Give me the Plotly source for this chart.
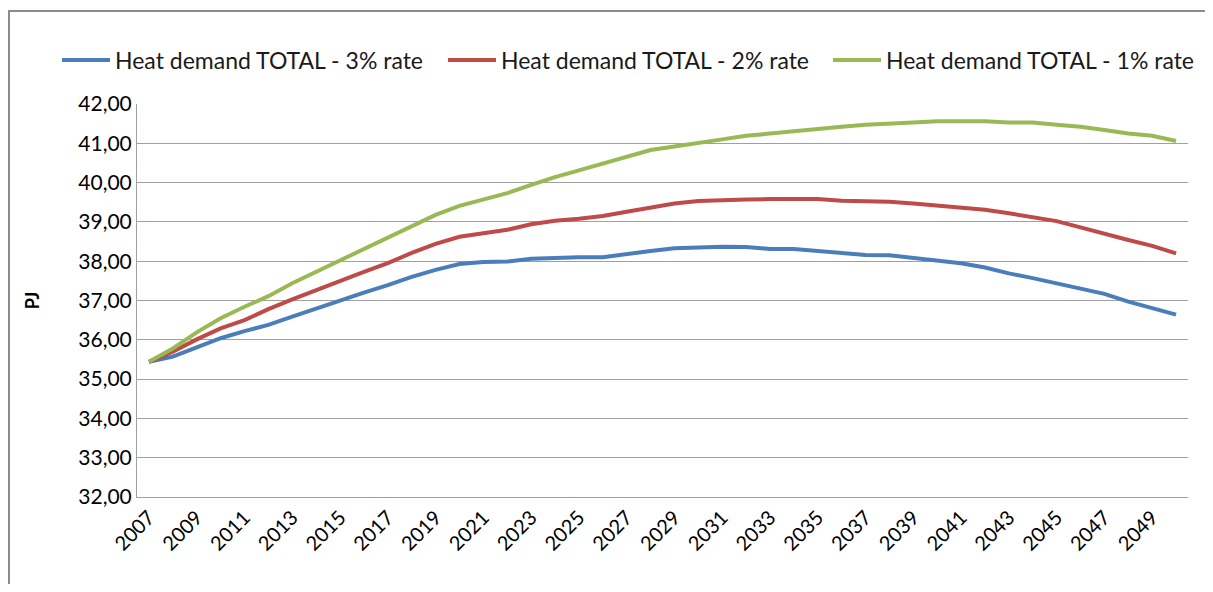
import plotly.graph_objects as go

years = [str(y) for y in range(2007, 2051)]
tick_years = [str(y) for y in range(2007, 2050, 2)]

rate_3 = [35.44, 35.57, 35.81, 36.04, 36.22, 36.38, 36.59, 36.80, 37.00, 37.20,
          37.39, 37.60, 37.78, 37.93, 37.98, 37.99, 38.06, 38.09, 38.10, 38.10,
          38.19, 38.26, 38.33, 38.36, 38.37, 38.36, 38.31, 38.31, 38.26, 38.20,
          38.16, 38.15, 38.09, 38.02, 37.95, 37.84, 37.69, 37.57, 37.44, 37.29,
          37.17, 36.97, 36.81, 36.64]
rate_2 = [35.44, 35.70, 36.01, 36.29, 36.50, 36.78, 37.03, 37.27, 37.50, 37.73,
          37.95, 38.21, 38.44, 38.62, 38.71, 38.80, 38.94, 39.03, 39.08, 39.15,
          39.26, 39.37, 39.47, 39.53, 39.56, 39.57, 39.58, 39.59, 39.58, 39.54,
          39.53, 39.51, 39.47, 39.42, 39.37, 39.31, 39.22, 39.12, 39.02, 38.86,
          38.69, 38.54, 38.39, 38.20]
rate_1 = [35.44, 35.78, 36.19, 36.55, 36.84, 37.11, 37.44, 37.73, 38.02, 38.30,
          38.60, 38.90, 39.18, 39.41, 39.57, 39.73, 39.94, 40.14, 40.31, 40.49,
          40.66, 40.83, 40.92, 41.00, 41.10, 41.19, 41.25, 41.32, 41.38, 41.42,
          41.47, 41.49, 41.53, 41.56, 41.57, 41.56, 41.53, 41.53, 41.47, 41.42,
          41.34, 41.25, 41.19, 41.06]

names = ["Heat demand TOTAL - 3% rate", "Heat demand TOTAL - 2% rate",
         "Heat demand TOTAL - 1% rate"]
colors = ["#4A7EBB", "#BE4B48", "#98B954"]
series = [rate_3, rate_2, rate_1]

# page body has an 8px margin; work in reference-pixel coordinates minus it
OFF = 8
W, H = 1213 - OFF, 592 - 2 * OFF
L, R, T, B = 137 - OFF, 1188 - OFF, 104 - OFF, 497 - OFF

legend_ids = ["legend", "legend2", "legend3"]
legend_left_px = [57, 443, 828]

fig = go.Figure()
for n, c, s, lg in zip(names, colors, series, legend_ids):
    fig.add_trace(go.Scatter(x=years, y=s, mode="lines", name=n, legend=lg,
                             line=dict(color=c, width=4)))

def px_x(p):
    return (p - OFF - L) / (R - L)

def px_y(p):
    return (B - (p - OFF)) / (B - T)

font_family = "Lato, 'Open Sans', sans-serif"
border = dict(color="#8C8C8C", width=2)

legend_common = dict(orientation="h", xref="container", yref="container",
                     xanchor="left", y=1 - (60 - OFF) / H, yanchor="middle",
                     font=dict(size=23, color="#1a1a1a"), itemwidth=48,
                     bgcolor="rgba(0,0,0,0)")

legends = {lg: dict(legend_common, x=(xp - OFF) / W)
           for lg, xp in zip(legend_ids, legend_left_px)}

fig.update_layout(
    width=W, height=H,
    margin=dict(l=L, r=W - R, t=T, b=H - B, autoexpand=False),
    paper_bgcolor="white", plot_bgcolor="white",
    separators=",.",
    font=dict(family=font_family, size=20, color="black"),
    showlegend=True,
    xaxis=dict(type="category", tickmode="array", tickvals=tick_years,
               ticktext=tick_years, tickangle=-45, showgrid=False,
               showline=True, linecolor="#A0A0A0", linewidth=1,
               tickfont=dict(size=20), range=[-0.5, 43.5], automargin=False),
    yaxis=dict(range=[32, 42], dtick=1, tick0=32, tickformat=".2f",
               showgrid=True, gridcolor="#A0A0A0", gridwidth=1,
               showline=True, linecolor="#A0A0A0", linewidth=1,
               zeroline=False, tickfont=dict(size=21), automargin=False,
               title=dict(text="<b>PJ</b>", font=dict(size=18), standoff=33)),
    shapes=[
        dict(type="line", xref="paper", yref="paper",
             x0=px_x(9), x1=px_x(1213), y0=px_y(11), y1=px_y(11), line=border),
        dict(type="line", xref="paper", yref="paper",
             x0=px_x(9), x1=px_x(9), y0=px_y(10), y1=px_y(600), line=border),
    ],
    **legends,
)

fig.write_html("out.html")
